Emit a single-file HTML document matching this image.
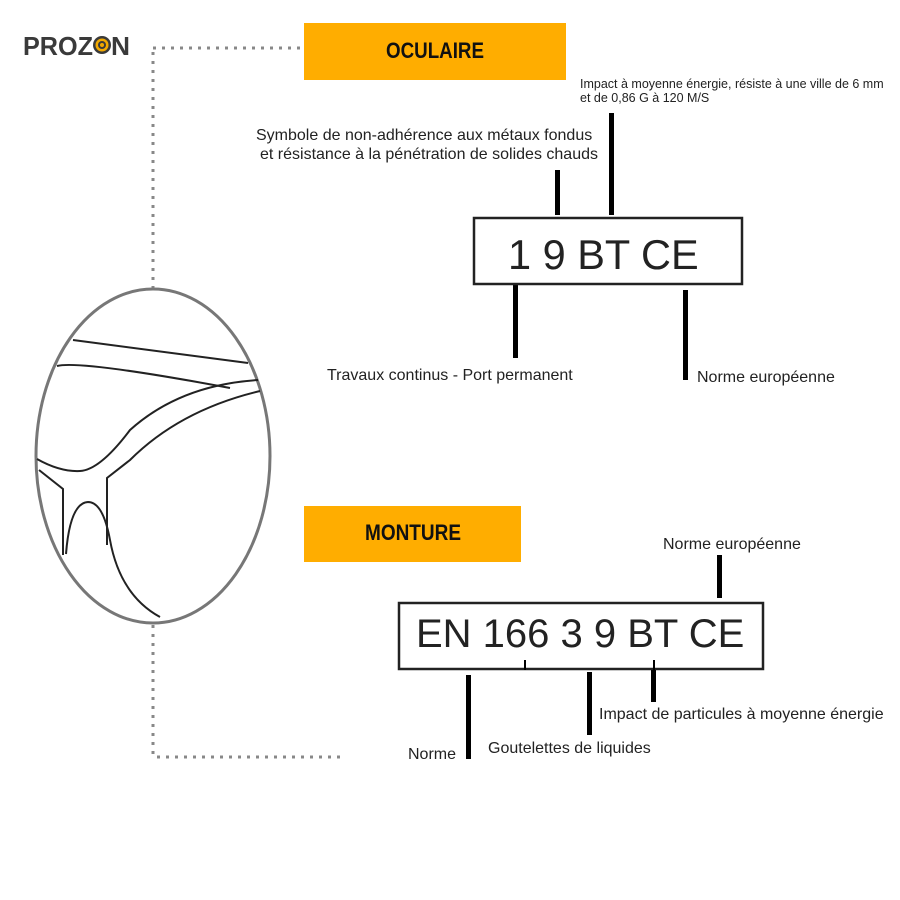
<!DOCTYPE html>
<html><head><meta charset="utf-8"><style>
html,body{margin:0;padding:0;background:#fff;width:900px;height:900px;overflow:hidden}
svg{display:block}
.t{font-family:"Liberation Sans",sans-serif;fill:#222}
.h{font-family:"Liberation Sans Narrow","Liberation Sans",sans-serif;font-weight:bold;fill:#111}
</style></head><body>
<svg width="900" height="900" viewBox="0 0 900 900" xmlns="http://www.w3.org/2000/svg">
<!-- logo -->
<text x="23" y="55" class="h" font-size="26" style="fill:#3a3a3a" textLength="70" lengthAdjust="spacingAndGlyphs">PROZ</text>
<text x="111" y="55" class="h" font-size="26" style="fill:#3a3a3a" textLength="19" lengthAdjust="spacingAndGlyphs">N</text>
<circle cx="102" cy="45" r="9" fill="#3a3a3a"/>
<circle cx="102" cy="45" r="6.5" fill="#f2a900"/>
<circle cx="102" cy="45" r="4" fill="#3a3a3a"/>
<circle cx="102" cy="45" r="2" fill="#f2a900"/>
<!-- dotted lines -->
<g stroke="#888" stroke-width="3" stroke-dasharray="3,6" fill="none">
<line x1="153" y1="48" x2="303" y2="48"/>
<line x1="153" y1="52" x2="153" y2="290"/>
<line x1="153" y1="625" x2="153" y2="757"/>
<line x1="157" y1="757" x2="346" y2="757"/>
</g>
<!-- ellipse -->
<ellipse cx="153" cy="456" rx="117" ry="167" fill="#fff" stroke="#777" stroke-width="3"/>
<g stroke="#222" stroke-width="2" fill="none">
<path d="M73 340 L248 363"/>
<path d="M57 366 Q80 360 230 388"/>
<path d="M37 459 Q60 472 80 471 Q100 470 130 430 Q180 385 258 380"/>
<path d="M260 391 Q180 410 130 460 L107 478 L107 545"/>
<path d="M39 470 L63 489 L63 555"/>
<path d="M66 554 Q70 503 88 502 Q103 502 110 540 Q120 595 160 617"/>
</g>
<!-- orange boxes -->
<rect x="304" y="23" width="262" height="57" fill="#ffad00"/>
<text x="435" y="58" class="h" font-size="22" text-anchor="middle" textLength="98" lengthAdjust="spacingAndGlyphs">OCULAIRE</text>
<rect x="304" y="506" width="217" height="56" fill="#ffad00"/>
<text x="413" y="540" class="h" font-size="22" text-anchor="middle" textLength="96" lengthAdjust="spacingAndGlyphs">MONTURE</text>
<!-- top labels -->
<text x="580" y="88" class="t" font-size="12.5">Impact à moyenne énergie, résiste à une ville de 6 mm</text>
<text x="580" y="102" class="t" font-size="12.5">et de 0,86 G à 120 M/S</text>
<text x="256" y="140" class="t" font-size="16">Symbole de non-adhérence aux métaux fondus</text>
<text x="260" y="159" class="t" font-size="16">et résistance à la pénétration de solides chauds</text>
<g fill="#000">
<rect x="555" y="170" width="5" height="45"/>
<rect x="609" y="113" width="5" height="102"/>
<rect x="513" y="285" width="5" height="73"/>
<rect x="683" y="290" width="5" height="90"/>
</g>
<rect x="474" y="218" width="268" height="66" fill="#fff" stroke="#222" stroke-width="2.5"/>
<text x="508" y="269" class="t" font-size="41.5">1 9 BT CE</text>
<text x="327" y="380" class="t" font-size="16">Travaux continus - Port permanent</text>
<text x="697" y="382" class="t" font-size="16">Norme européenne</text>
<!-- bottom -->
<text x="663" y="549" class="t" font-size="16">Norme européenne</text>
<rect x="717" y="555" width="5" height="43"/>
<rect x="399" y="603" width="364" height="66" fill="#fff" stroke="#222" stroke-width="2.5"/>
<text x="416" y="647" class="t" font-size="40">EN 166 3 9 BT CE</text>
<g fill="#000">
<rect x="524" y="660" width="2" height="10"/>
<rect x="653" y="660" width="2" height="10"/>
<rect x="466" y="675" width="5" height="84"/>
<rect x="587" y="672" width="5" height="63"/>
<rect x="651" y="670" width="5" height="32"/>
</g>
<text x="599" y="719" class="t" font-size="16">Impact de particules à moyenne énergie</text>
<text x="488" y="753" class="t" font-size="16">Goutelettes de liquides</text>
<text x="408" y="759" class="t" font-size="16">Norme</text>
</svg>
</body></html>
